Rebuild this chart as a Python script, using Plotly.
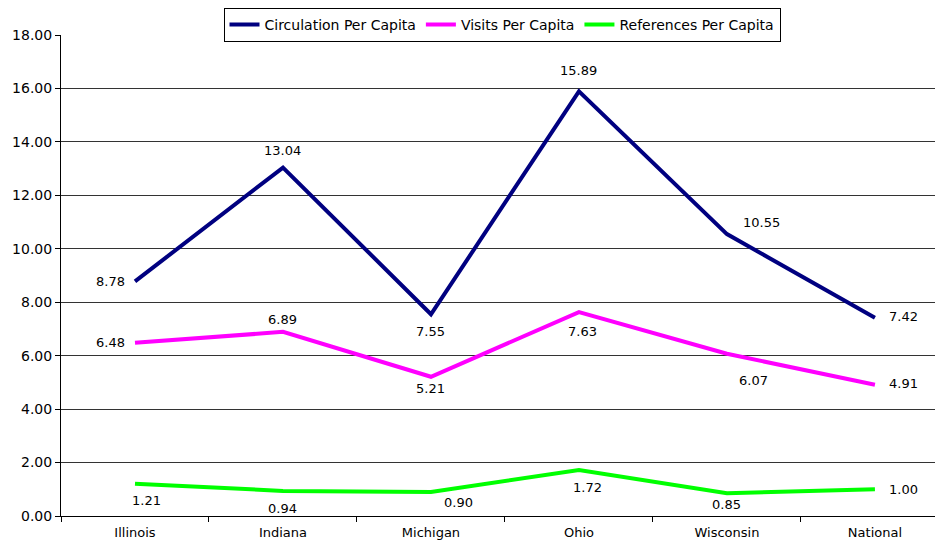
import plotly.graph_objects as go

categories = ["Illinois", "Indiana", "Michigan", "Ohio", "Wisconsin", "National"]
circulation = [8.78, 13.04, 7.55, 15.89, 10.55, 7.42]
visits = [6.48, 6.89, 5.21, 7.63, 6.07, 4.91]
references = [1.21, 0.94, 0.90, 1.72, 0.85, 1.00]
y_ticks = [0, 2, 4, 6, 8, 10, 12, 14, 16, 18]

FONT = "DejaVu Sans"

# label offsets in pixels (dx right, dy down)
series = [
    ("Circulation Per Capita", circulation, "#000080",
     [(-24, 0), (0, -17), (0, 17), (0, -21), (35, -12), (29, -1)]),
    ("Visits Per Capita", visits, "#FF00FF",
     [(-24, 0), (0, -12), (0, 12), (4, 19), (27, 27), (29, -1)]),
    ("References Per Capita", references, "#00FF00",
     [(12, 17), (0, 18), (28, 11), (9, 17), (0, 11), (29, 0)]),
]

fig = go.Figure()
annotations = []
for name, vals, color, offs in series:
    fig.add_trace(go.Scatter(x=categories, y=vals, mode="lines", name=name,
                             line=dict(color=color, width=4)))
    for c, v, (dx, dy) in zip(categories, vals, offs):
        annotations.append(dict(x=c, y=v, text=f"{v:.2f}", showarrow=False,
                                xshift=dx, yshift=-dy,
                                font=dict(family=FONT, size=13, color="black")))

fig.update_layout(
    width=935, height=533,
    margin=dict(l=53, r=0, t=27, b=25, autoexpand=False),
    paper_bgcolor="white", plot_bgcolor="white",
    font=dict(family=FONT, size=13, color="black"),
    annotations=annotations,
    showlegend=True,
    legend=dict(orientation="h", x=0.5, xanchor="center", yref="container", y=1.0, yanchor="top",
                bordercolor="black", borderwidth=1, bgcolor="white",
                font=dict(family=FONT, size=14), tracegroupgap=0),
    xaxis=dict(range=[-0.5, 5.46], showline=True, linecolor="black", linewidth=1,
               ticks="outside", tickson="boundaries", ticklen=5, tickcolor="black",
               ticklabelstandoff=4,
               showgrid=False, zeroline=False, tickfont=dict(size=13)),
    yaxis=dict(range=[0, 18], tickvals=y_ticks, tickformat=".2f", showline=True,
               linecolor="black", linewidth=1, ticks="outside", ticklen=5,
               tickcolor="black", showgrid=True, gridcolor="#333333", gridwidth=1,
               zeroline=False, tickfont=dict(size=14)),
)

fig.write_html("out.html")
